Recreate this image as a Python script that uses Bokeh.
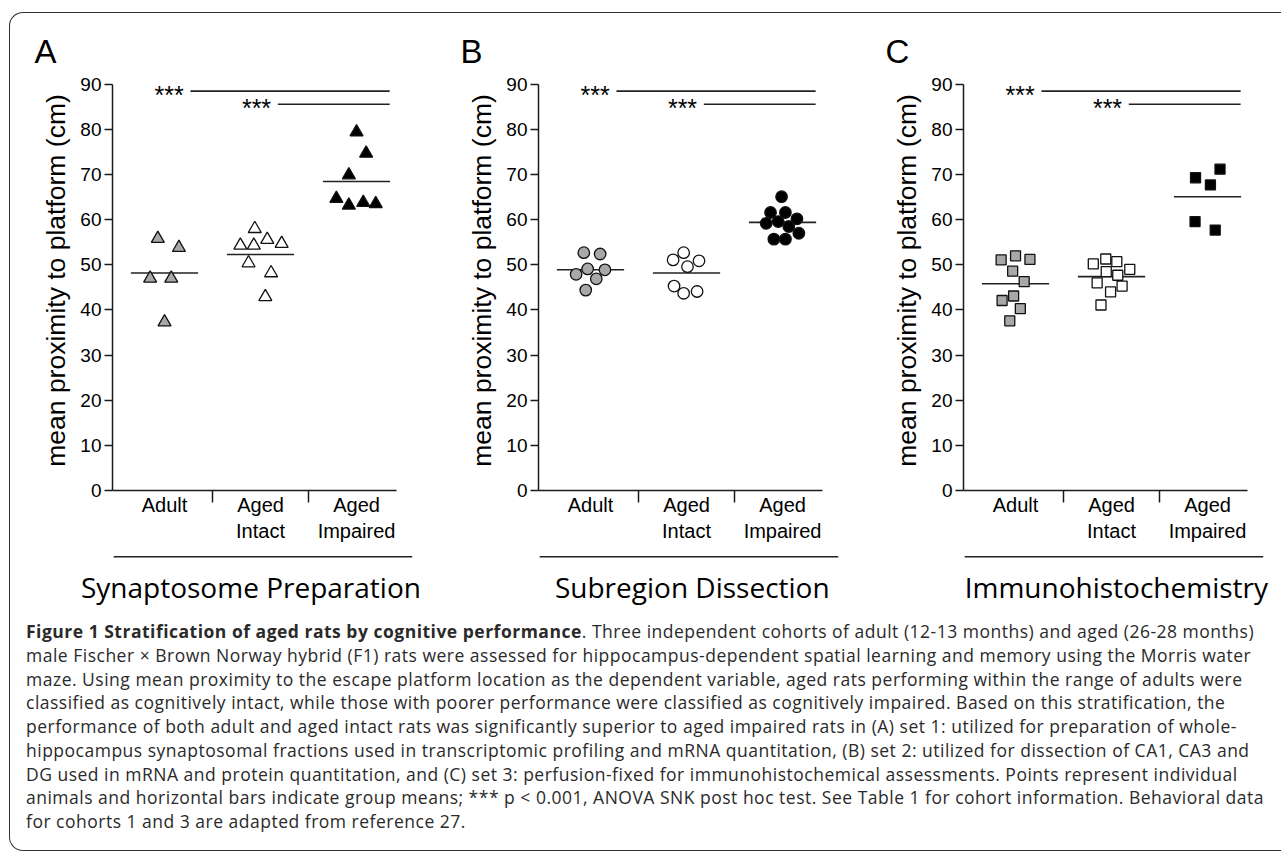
import numpy as np
from bokeh.plotting import figure
from bokeh.models import FixedTicker, Range1d, Div, ColumnDataSource
from bokeh.layouts import row, column
from bokeh.embed import file_html
from bokeh.resources import INLINE
from bokeh.core.properties import value

# ---------------- data ----------------
categories = ["Adult", "Aged\nIntact", "Aged\nImpaired"]
panel_letters = ["A", "B", "C"]
panel_titles = ["Synaptosome Preparation", "Subregion Dissection", "Immunohistochemistry"]
y_label = "mean proximity to platform (cm)"
y_ticks = [0, 10, 20, 30, 40, 50, 60, 70, 80, 90]
sig_text = "***"

# Panel A (triangles)
a_adult = [55.8, 53.8, 47.0, 47.0, 37.3]
a_adult_jit = [-0.07, 0.15, -0.15, 0.07, 0.0]
a_intact = [58.0, 54.3, 54.3, 55.6, 54.7, 50.4, 48.2, 42.9]
a_intact_jit = [-0.06, -0.21, -0.07, 0.07, 0.22, -0.125, 0.11, 0.05]
a_impaired = [79.4, 74.7, 69.9, 64.7, 63.2, 63.8, 63.5]
a_impaired_jit = [0.0, 0.1, -0.08, -0.21, -0.08, 0.07, 0.2]

# Panel B (circles)
b_adult = [52.7, 52.4, 49.1, 48.9, 47.9, 46.9, 44.4]
b_adult_jit = [-0.07, 0.1, -0.03, 0.15, -0.15, 0.06, -0.05]
b_intact = [52.7, 51.1, 50.9, 49.6, 45.3, 43.7, 44.1]
b_intact_jit = [-0.03, -0.14, 0.13, 0.01, -0.13, -0.03, 0.11]
b_impaired = [65.1, 61.6, 61.6, 59.2, 59.6, 60.2, 58.5, 57.0, 55.7, 55.7]
b_impaired_jit = [-0.01, -0.125, 0.03, -0.17, -0.045, 0.15, 0.065, 0.17, -0.09, 0.03]

# Panel C (squares)
c_adult = [51.1, 52.0, 51.2, 48.6, 46.3, 42.1, 43.1, 40.3, 37.6]
c_adult_jit = [-0.15, 0.0, 0.15, -0.03, 0.09, -0.14, -0.02, 0.05, -0.06]
c_intact = [50.2, 51.3, 50.7, 48.5, 49.0, 47.7, 46.0, 45.3, 44.0, 41.1]
c_intact_jit = [-0.19, -0.06, 0.055, -0.055, 0.19, 0.065, -0.15, 0.11, -0.01, -0.11]
c_impaired = [71.2, 69.3, 67.7, 59.6, 57.7]
c_impaired_jit = [0.13, -0.125, 0.03, -0.13, 0.08]

sig_y = [88.5, 85.6]          # heights of the two significance bars
sig_from = [1, 2]             # Adult vs Impaired, Intact vs Impaired
sig_to = 3

panels = [
    dict(groups=[(a_adult, a_adult_jit), (a_intact, a_intact_jit), (a_impaired, a_impaired_jit)], marker="triangle"),
    dict(groups=[(b_adult, b_adult_jit), (b_intact, b_intact_jit), (b_impaired, b_impaired_jit)], marker="circle"),
    dict(groups=[(c_adult, c_adult_jit), (c_intact, c_intact_jit), (c_impaired, c_impaired_jit)], marker="square"),
]

# ---------------- styles ----------------
FILLS = ["#a8a8a8", "#ffffff", "#000000"]
MSIZE = {"triangle": 13, "circle": 11.5, "square": 10}
AX = "#1a1a1a"
PX_PER_CAT = 96.0
PX_PER_Y = 4.513
X0 = 0.458
FRAME_W = 302
FRAME_H = 420
Y1 = FRAME_H / PX_PER_Y
X1 = X0 + FRAME_W / PX_PER_CAT
FIG_W = [420, 425, 418]
BORDER_L = [102, 108, 108]
MB_TOP, MB_BOT = 57, 60
FIG_H = MB_TOP + FRAME_H + MB_BOT
SUB_H = 62
SUB_X = [1.9, 2.06, 2.05]
ARIAL = "Liberation Sans"
MYRIAD = "Open Sans"


def make_panel(i):
    pn = panels[i]
    br = FIG_W[i] - BORDER_L[i] - FRAME_W
    p = figure(width=FIG_W[i], height=FIG_H, x_range=Range1d(X0, X1), y_range=Range1d(0, Y1),
               output_backend="svg", toolbar_location=None,
               min_border_left=BORDER_L[i], min_border_right=br,
               min_border_top=MB_TOP, min_border_bottom=MB_BOT)
    p.grid.visible = False
    p.outline_line_color = None
    p.background_fill_color = None
    p.border_fill_color = None

    # panel letter as title
    p.title.text = panel_letters[i]
    p.title.align = "left"
    p.title.offset = -78
    p.title.standoff = 1
    p.title.text_font = ARIAL
    p.title.text_font_size = "33px"
    p.title.text_font_style = "normal"
    p.title.text_color = "#000000"

    # y axis
    ya = p.yaxis[0]
    ya.ticker = FixedTicker(ticks=y_ticks)
    ya.bounds = (0, 90)
    ya.axis_line_color = AX
    ya.axis_line_width = 1.5
    ya.major_tick_line_color = AX
    ya.major_tick_line_width = 1.5
    ya.major_tick_out = 8
    ya.major_tick_in = 0
    ya.minor_tick_out = 0
    ya.major_label_standoff = 3
    ya.major_label_text_font = ARIAL
    ya.major_label_text_font_size = "19px"
    ya.major_label_text_color = "#000000"
    ya.axis_label = y_label
    ya.axis_label_text_font = ARIAL
    ya.axis_label_text_font_size = "26.5px"
    ya.axis_label_text_font_style = "normal"
    ya.axis_label_text_color = "#000000"
    ya.axis_label_standoff = 6

    # x axis: labels at categories, dividers as minor ticks
    xa = p.xaxis[0]
    xa.ticker = FixedTicker(ticks=[1, 2, 3], minor_ticks=[1.5, 2.5])
    xa.major_label_overrides = {k + 1: c for k, c in enumerate(categories)}
    xa.bounds = (X0, 3.416)
    xa.axis_line_color = AX
    xa.axis_line_width = 1.5
    xa.major_tick_out = 0
    xa.major_tick_in = 0
    xa.minor_tick_out = 12
    xa.minor_tick_in = 0
    xa.minor_tick_line_color = AX
    xa.minor_tick_line_width = 1.5
    xa.major_label_standoff = -9
    xa.major_label_text_font = ARIAL
    xa.major_label_text_font_size = "20px"
    xa.major_label_text_color = "#000000"

    # points and mean bars
    for g, (vals, jit) in enumerate(pn["groups"]):
        xs = [g + 1 + j for j in jit]
        src = ColumnDataSource(dict(x=xs, y=vals))
        m = float(np.mean(vals))
        p.segment(x0=[g + 1 - 0.35], y0=[m], x1=[g + 1 + 0.35], y1=[m], line_color="#222222", line_width=1.6)
        p.scatter("x", "y", source=src, marker=pn["marker"], size=MSIZE[pn["marker"]],
                  fill_color=FILLS[g], line_color="#111111", line_width=1.3)

    # significance bars
    starts = [sig_from[0] + 0.27, sig_from[1] + 0.18]
    star_r = [sig_from[0] + 0.2, sig_from[1] + 0.11]
    for k in range(2):
        p.segment(x0=[starts[k]], y0=[sig_y[k]], x1=[sig_to + 0.345], y1=[sig_y[k]],
                  line_color="#222222", line_width=1.6)
        p.text(x=[star_r[k]], y=[sig_y[k] - 0.8], text=[sig_text], text_align="right",
               text_baseline="alphabetic", text_font=value(ARIAL), text_font_size="25px",
               text_color="#000000")

    # strip below the panel: underline + subtitle
    s = figure(width=FIG_W[i], height=SUB_H,
               x_range=Range1d(X0 - BORDER_L[i] / PX_PER_CAT, X1 + br / PX_PER_CAT),
               y_range=Range1d(0, SUB_H), x_axis_type=None, y_axis_type=None,
               output_backend="svg", toolbar_location=None, min_border=0)
    s.outline_line_color = None
    s.background_fill_color = None
    s.border_fill_color = None
    s.segment(x0=[0.47], y0=[SUB_H - 6.2], x1=[3.58], y1=[SUB_H - 6.2],
              line_color="#222222", line_width=1.5)
    s.text(x=[SUB_X[i]], y=[SUB_H - 36.2], text=[panel_titles[i]], text_align="center",
           text_baseline="alphabetic", text_font=value(MYRIAD), text_font_size="28px",
           text_color="#000000")
    return p, s


pairs = [make_panel(i) for i in range(3)]

caption_lines = [
    "<b>Figure 1 Stratification of aged rats by cognitive performance</b>. Three independent cohorts of adult (12-13 months) and aged (26-28 months)",
    "male Fischer &times; Brown Norway hybrid (F1) rats were assessed for hippocampus-dependent spatial learning and memory using the Morris water",
    "maze. Using mean proximity to the escape platform location as the dependent variable, aged rats performing within the range of adults were",
    "classified as cognitively intact, while those with poorer performance were classified as cognitively impaired. Based on this stratification, the",
    "performance of both adult and aged intact rats was significantly superior to aged impaired rats in (A) set 1: utilized for preparation of whole-",
    "hippocampus synaptosomal fractions used in transcriptomic profiling and mRNA quantitation, (B) set 2: utilized for dissection of CA1, CA3 and",
    "DG used in mRNA and protein quantitation, and (C) set 3: perfusion-fixed for immunohistochemical assessments. Points represent individual",
    "animals and horizontal bars indicate group means; *** p &lt; 0.001, ANOVA SNK post hoc test. See Table 1 for cohort information. Behavioral data",
    "for cohorts 1 and 3 are adapted from reference 27.",
]
cap = Div(text="<br>".join(caption_lines), width=1255, height=230, margin=(8, 0, 0, 16),
          styles={"font-family": "'Open Sans', sans-serif", "font-size": "17.5px",
                  "letter-spacing": "0.5px",
                  "line-height": "23.75px", "color": "#2a2a2a", "white-space": "nowrap"})

layout = column(row(*[p for p, _ in pairs]), row(*[s for _, s in pairs]), cap,
                margin=(12, 0, 0, 9), spacing=0,
                styles={"border-left": "1.5px solid #333", "border-top": "1.5px solid #333",
                        "border-bottom": "1.5px solid #333", "border-top-left-radius": "14px",
                        "border-bottom-left-radius": "14px"})

open("out.html", "w").write(file_html(layout, INLINE))
